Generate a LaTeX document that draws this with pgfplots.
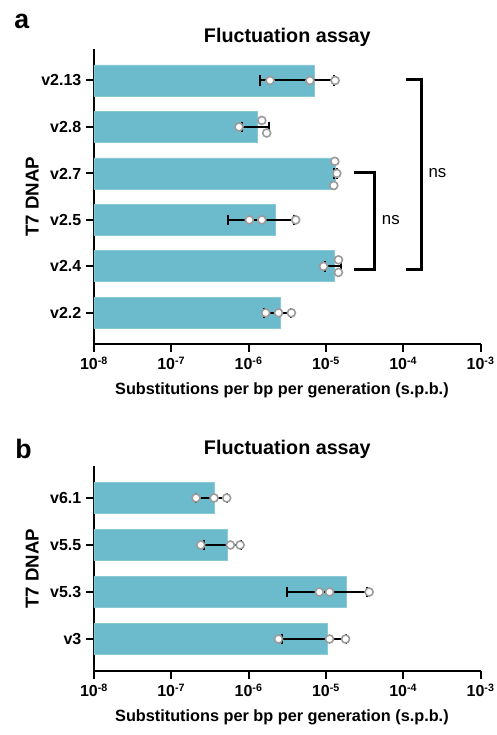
\documentclass[border=0pt]{standalone}
\usepackage{pgfplots}
\pgfplotsset{compat=1.18}
\usepackage{fontspec}
\setmainfont{Liberation Sans}

\definecolor{barblue}{RGB}{107,187,204}
\definecolor{ptgray}{RGB}{155,155,155}

\newcommand{\tlab}[1]{10\textsuperscript{#1}}
% mean - SD to mean + SD, with end caps
\newcommand{\sdrange}[3]{%
  \addplot[black, line width=1.5pt, mark=|, mark size=4pt,
           mark options={line width=1.5pt}] coordinates {(#1,#3) (#2,#3)};}

\begin{document}
\begin{tikzpicture}
\useasboundingbox (0,0) rectangle (372pt,551.25pt);

% ---------------- panel a ----------------
\begin{axis}[at={(70.5pt,293.25pt)}, anchor=south west,
  scale only axis, width=290pt, height=221pt,
  xmode=log, xmin=1e-8, xmax=1e-3, log origin x=infty,
  ymin=-0.67, ymax=5.67,
  axis x line=bottom, axis y line=left,
  axis line style={-, line width=1.9pt, black},
  xtick={1e-8,1e-7,1e-6,1e-5,1e-4,1e-3},
  xticklabels={\tlab{-8},\tlab{-7},\tlab{-6},\tlab{-5},\tlab{-4},\tlab{-3}},
  xminorticks=false,
  ytick={0,1,2,3,4,5},
  yticklabels={v2.2,v2.4,v2.5,v2.7,v2.8,v2.13},
  tick align=outside, major tick length=6pt,
  tick style={line width=1.5pt, black},
  ticklabel style={font=\fontsize{12}{14}\selectfont\bfseries},
  ylabel={T7 DNAP},
  ylabel style={font=\fontsize{14}{16}\selectfont\bfseries,
                at={(axis description cs:-0.160,0.5)}, anchor=center},
  xlabel={Substitutions per bp per generation (s.p.b.)},
  xlabel style={font=\fontsize{12.2}{14}\selectfont\bfseries,
                at={(axis description cs:0.486,-0.156)}, anchor=center},
]
% means
\addplot[xbar, bar width=0.667, bar shift=0pt, fill=barblue,
         draw=barblue!80!white, line width=0.6pt] coordinates {
  (2.553e-6,0) (1.277e-5,1) (2.187e-6,2) (1.313e-5,3) (1.313e-6,4) (7.063e-6,5)};
% mean +/- SD
\sdrange{1.592e-6}{3.514e-6}{0}
\sdrange{9.77e-6}{1.577e-5}{1}
\sdrange{5.48e-7}{3.826e-6}{2}
\sdrange{1.252e-5}{1.374e-5}{3}
\sdrange{8.12e-7}{1.814e-6}{4}
\sdrange{1.409e-6}{1.2717e-5}{5}
% replicates
\addplot[only marks, mark=*, mark size=3pt,
         mark options={fill=white, draw=ptgray, line width=1.2pt}] coordinates {
  (1.66e-6,0) (2.43e-6,0) (3.57e-6,0)
  (9.3e-6,1) (1.45e-5,1.14) (1.45e-5,0.87)
  (1.02e-6,2) (1.48e-6,2) (4.06e-6,2)
  (1.30e-5,3.26) (1.38e-5,3) (1.26e-5,2.74)
  (1.48e-6,4.14) (1.71e-6,3.87) (7.5e-7,4)
  (1.89e-6,5) (6.2e-6,5) (1.31e-5,5)};
% significance brackets
\draw[line width=2.25pt, line join=miter]
  (axis cs:2.33e-5,3.02) -- (axis cs:4.19e-5,3.02)
  -- (axis cs:4.19e-5,0.94) -- (axis cs:2.33e-5,0.94);
\node[font=\fontsize{12.6}{14}\selectfont] at (axis cs:6.9e-5,2) {ns};
\draw[line width=2.25pt, line join=miter]
  (axis cs:1.09e-4,5.02) -- (axis cs:1.73e-4,5.02)
  -- (axis cs:1.73e-4,0.94) -- (axis cs:1.09e-4,0.94);
\node[font=\fontsize{12.6}{14}\selectfont] at (axis cs:2.76e-4,3) {ns};
\end{axis}

% ---------------- panel b ----------------
\begin{axis}[at={(70.5pt,48pt)}, anchor=south west,
  scale only axis, width=290pt, height=153.75pt,
  xmode=log, xmin=1e-8, xmax=1e-3, log origin x=infty,
  ymin=-0.68, ymax=3.68,
  axis x line=bottom, axis y line=left,
  axis line style={-, line width=1.9pt, black},
  xtick={1e-8,1e-7,1e-6,1e-5,1e-4,1e-3},
  xticklabels={\tlab{-8},\tlab{-7},\tlab{-6},\tlab{-5},\tlab{-4},\tlab{-3}},
  xminorticks=false,
  ytick={0,1,2,3},
  yticklabels={v3,v5.3,v5.5,v6.1},
  tick align=outside, major tick length=6pt,
  tick style={line width=1.5pt, black},
  ticklabel style={font=\fontsize{12}{14}\selectfont\bfseries},
  ylabel={T7 DNAP},
  ylabel style={font=\fontsize{14}{16}\selectfont\bfseries,
                at={(axis description cs:-0.160,0.5)}, anchor=center},
  xlabel={Substitutions per bp per generation (s.p.b.)},
  xlabel style={font=\fontsize{12.2}{14}\selectfont\bfseries,
                at={(axis description cs:0.486,-0.224)}, anchor=center},
]
% means
\addplot[xbar, bar width=0.667, bar shift=0pt, fill=barblue,
         draw=barblue!80!white, line width=0.6pt] coordinates {
  (1.048e-5,0) (1.847e-5,1) (5.317e-7,2) (3.62e-7,3)};
% mean +/- SD
\sdrange{2.73e-6}{1.823e-5}{0}
\sdrange{3.13e-6}{3.381e-5}{1}
\sdrange{2.607e-7}{8.027e-7}{2}
\sdrange{2.064e-7}{5.176e-7}{3}
% replicates
\addplot[only marks, mark=*, mark size=3pt,
         mark options={fill=white, draw=ptgray, line width=1.2pt}] coordinates {
  (2.43e-6,0) (1.11e-5,0) (1.79e-5,0)
  (8.2e-6,1) (1.11e-5,1) (3.61e-5,1)
  (2.4e-7,2) (5.8e-7,2) (7.75e-7,2)
  (2.09e-7,3) (3.57e-7,3) (5.2e-7,3)};
\end{axis}

% titles and panel letters
\node[font=\fontsize{14.8}{17}\selectfont\bfseries, anchor=base]
  at (215.5pt,519pt) {Fluctuation assay};
\node[font=\fontsize{14.8}{17}\selectfont\bfseries, anchor=base]
  at (215.5pt,210pt) {Fluctuation assay};
\node[font=\fontsize{20}{22}\selectfont\bfseries, anchor=base west, inner sep=0pt]
  at (10.5pt,529.5pt) {a};
\node[font=\fontsize{20}{22}\selectfont\bfseries, anchor=base west, inner sep=0pt]
  at (11.25pt,207pt) {b};
\end{tikzpicture}
\end{document}
